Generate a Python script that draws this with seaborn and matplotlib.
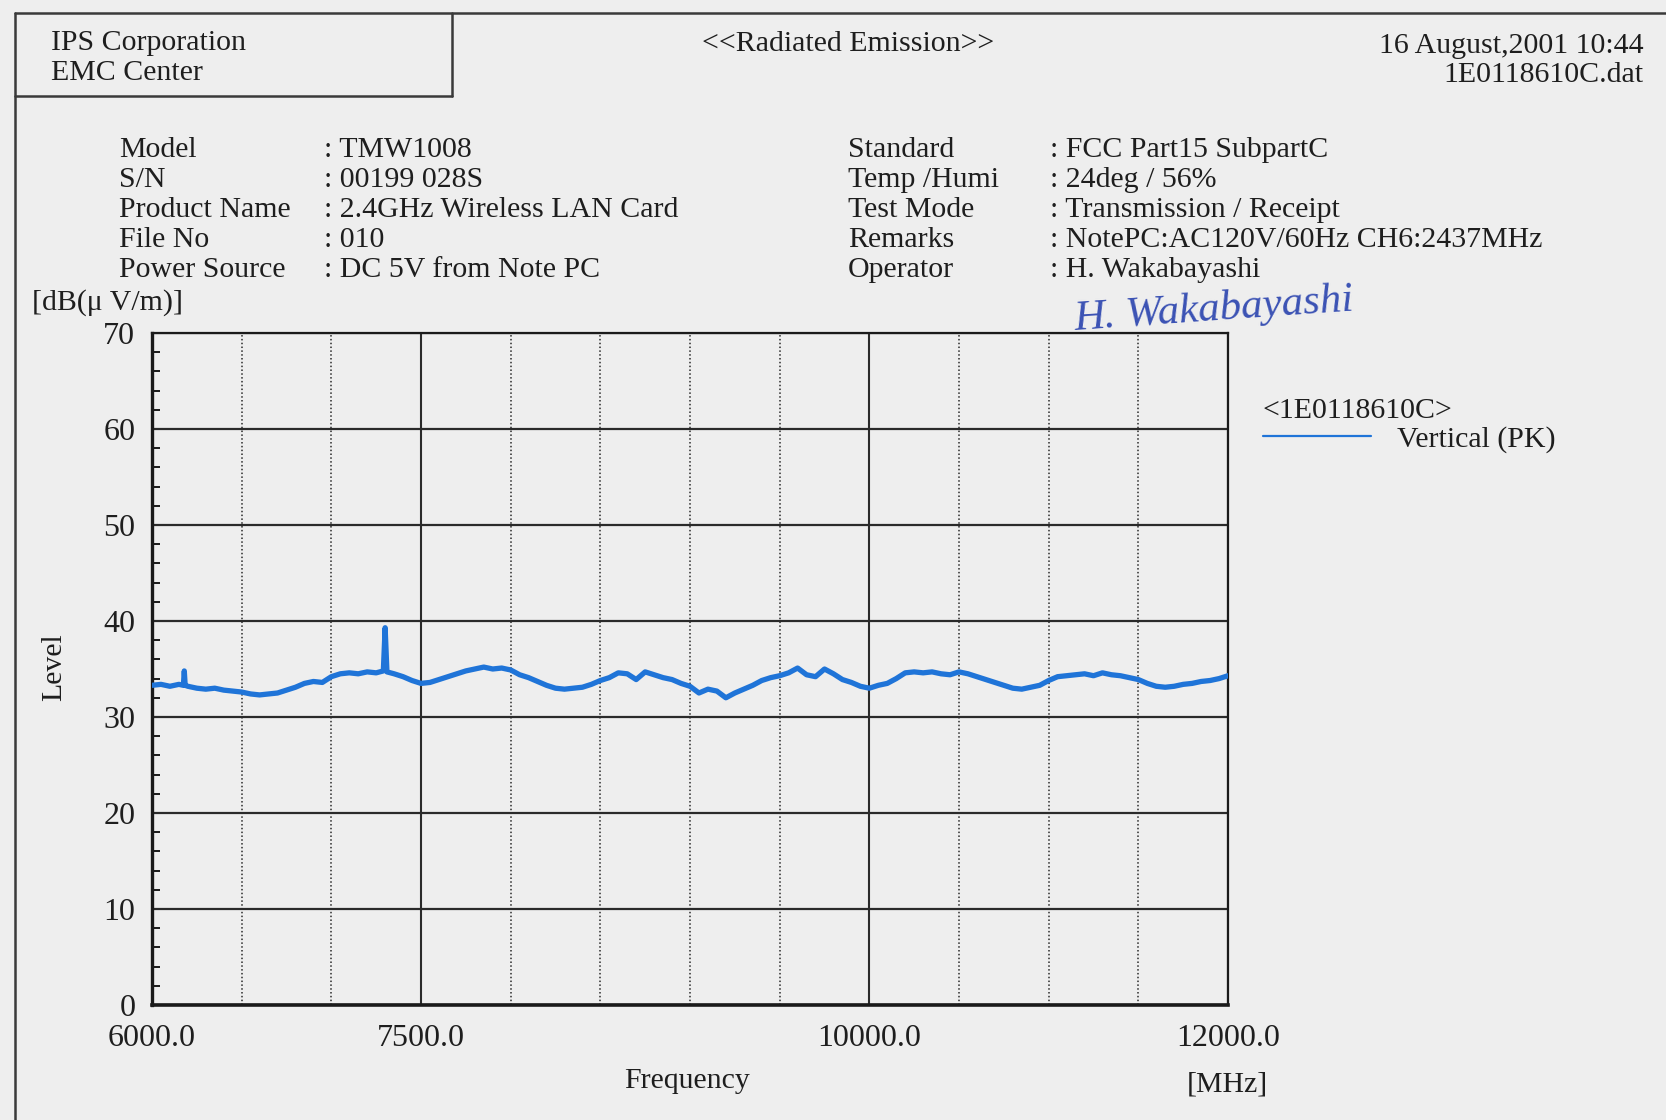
import matplotlib
matplotlib.use("Agg")
import matplotlib.pyplot as plt
from matplotlib.lines import Line2D
from matplotlib.ticker import MultipleLocator, FixedLocator, FuncFormatter
import seaborn as sns
import pandas as pd

# ---------------- data ----------------
freq_mhz = [6000, 6050, 6100, 6150, 6175, 6180, 6185, 6200, 6250, 6300, 6350, 6400, 6450,
            6500, 6550, 6600, 6650, 6700, 6750, 6800, 6850, 6900, 6950, 7000, 7050, 7100,
            7150, 7200, 7250, 7290, 7300, 7310, 7350, 7400, 7450, 7500, 7550, 7600, 7650,
            7700, 7750, 7800, 7850, 7900, 7950, 8000, 8050, 8100, 8150, 8200, 8250, 8300,
            8350, 8400, 8450, 8500, 8550, 8600, 8650, 8700, 8750, 8800, 8850, 8900, 8950,
            9000, 9050, 9100, 9150, 9200, 9250, 9300, 9350, 9400, 9450, 9500, 9550, 9600,
            9650, 9700, 9750, 9800, 9850, 9900, 9950, 10000, 10050, 10100, 10150, 10200,
            10250, 10300, 10350, 10400, 10450, 10500, 10550, 10600, 10650, 10700, 10750,
            10800, 10850, 10900, 10950, 11000, 11050, 11100, 11150, 11200, 11250, 11300,
            11350, 11400, 11450, 11500, 11550, 11600, 11650, 11700, 11750, 11800, 11850,
            11900, 11950, 12000]
level_db = [33.3, 33.4, 33.2, 33.4, 33.3, 34.8, 33.3, 33.2, 33.0, 32.9, 33.0, 32.8, 32.7,
            32.6, 32.4, 32.3, 32.4, 32.5, 32.8, 33.1, 33.5, 33.7, 33.6, 34.2, 34.5, 34.6,
            34.5, 34.7, 34.6, 34.8, 39.3, 34.7, 34.5, 34.2, 33.8, 33.5, 33.6, 33.9, 34.2,
            34.5, 34.8, 35.0, 35.2, 35.0, 35.1, 34.9, 34.4, 34.1, 33.7, 33.3, 33.0, 32.9,
            33.0, 33.1, 33.4, 33.8, 34.1, 34.6, 34.5, 33.9, 34.7, 34.4, 34.1, 33.9, 33.5,
            33.2, 32.5, 32.9, 32.7, 32.0, 32.5, 32.9, 33.3, 33.8, 34.1, 34.3, 34.6, 35.1,
            34.4, 34.2, 35.0, 34.5, 33.9, 33.6, 33.2, 33.0, 33.3, 33.5, 34.0, 34.6,
            34.7, 34.6, 34.7, 34.5, 34.4, 34.7, 34.5, 34.2, 33.9, 33.6, 33.3,
            33.0, 32.9, 33.1, 33.3, 33.8, 34.2, 34.3, 34.4, 34.5, 34.3, 34.6,
            34.4, 34.3, 34.1, 33.9, 33.5, 33.2, 33.1, 33.2, 33.4, 33.5, 33.7,
            33.8, 34.0, 34.3]
x_tick_values = [6000, 7500, 10000, 12000]
y_tick_values = [0, 10, 20, 30, 40, 50, 60, 70]
series_name = "Vertical (PK)"
legend_title = "<1E0118610C>"

left_labels = ["Model", "S/N", "Product Name", "File No", "Power Source"]
left_values = [": TMW1008", ": 00199 028S", ": 2.4GHz Wireless LAN Card", ": 010",
               ": DC 5V from Note PC"]
right_labels = ["Standard", "Temp /Humi", "Test Mode", "Remarks", "Operator"]
right_values = [": FCC Part15 SubpartC", ": 24deg / 56%", ": Transmission / Receipt",
                ": NotePC:AC120V/60Hz CH6:2437MHz", ": H. Wakabayashi"]

# ---------------- style ----------------
BG = "#eeeeee"
INK = "#1e1e1e"
BLUE = "#1f74d8"
W, H = 1666, 1120

sns.set_theme(style="white")
plt.rcParams["font.family"] = ["Liberation Serif", "DejaVu Serif"]
plt.rcParams["text.color"] = INK
FS = 21.5
TFS = 23

fig = plt.figure(figsize=(W / 100, H / 100), dpi=100, facecolor=BG)


def fx(px):
    return px / W


def fy(py):
    return 1 - py / H


ax = fig.add_axes([fx(152), fy(1005), fx(1228) - fx(152), fy(333) - fy(1005)])
ax.set_facecolor(BG)

df = pd.DataFrame({"Frequency": freq_mhz, "Level": level_db})
sns.lineplot(data=df, x="Frequency", y="Level", ax=ax, color=BLUE, lw=3.8,
             estimator=None, sort=False, label=series_name, zorder=5)

ax.set_xlim(6000, 12000)
ax.set_ylim(0, 70)
ax.xaxis.set_major_locator(FixedLocator(x_tick_values))
ax.xaxis.set_minor_locator(MultipleLocator(500))
ax.xaxis.set_major_formatter(FuncFormatter(lambda v, p: f"{v:.1f}"))
ax.yaxis.set_major_locator(FixedLocator(y_tick_values))
ax.yaxis.set_minor_locator(MultipleLocator(2))

ax.grid(False)
ax.grid(which="major", axis="y", color="#2a2a2a", lw=1.6, ls="-")
ax.grid(which="major", axis="x", color="#2a2a2a", lw=1.5, ls="-")
ax.grid(which="minor", axis="x", color="#2a2a2a", lw=1.1, ls=(0, (1, 1.5)))

for side, lw in [("left", 2.4), ("bottom", 2.6), ("top", 1.6), ("right", 1.6)]:
    ax.spines[side].set_visible(True)
    ax.spines[side].set_color("#1a1a1a")
    ax.spines[side].set_linewidth(lw)

ax.tick_params(axis="x", which="both", length=0, pad=14, labelsize=TFS, colors=INK)
ax.tick_params(axis="y", which="major", length=0, pad=12, labelsize=TFS, colors=INK)
ax.tick_params(axis="y", which="minor", direction="in", length=6, width=1.4,
               left=True, right=False, color="#1a1a1a")

ax.set_xlabel("Frequency", fontsize=FS, color=INK)
ax.xaxis.set_label_coords(0.497, -0.113)
ax.xaxis.label.set_va("center")
ax.set_ylabel("Level", fontsize=FS, color=INK)
ax.yaxis.set_label_coords(-0.091, 0.503)
ax.yaxis.label.set_va("center")

# legend
leg = ax.legend(title=legend_title, loc="upper left",
                bbox_to_anchor=(fx(1263), fy(398)), bbox_transform=fig.transFigure,
                frameon=False, borderpad=0, borderaxespad=0, fontsize=FS,
                title_fontsize=FS, handlelength=3.6, handletextpad=0.9,
                labelspacing=0.05, alignment="left")
for ln in leg.get_lines():
    ln.set_linewidth(1.6)

# ---------------- page texts ----------------
fig.text(fx(51), fy(43), "IPS Corporation", fontsize=FS, va="center", ha="left")
fig.text(fx(51), fy(73), "EMC Center", fontsize=FS, va="center", ha="left")
fig.text(fx(848), fy(44), "<<Radiated Emission>>", fontsize=FS, va="center", ha="center")
fig.text(fx(1644), fy(46), "16 August,2001 10:44", fontsize=FS, va="center", ha="right")
fig.text(fx(1644), fy(75), "1E0118610C.dat", fontsize=FS, va="center", ha="right")

row_y = [150, 180, 210, 240, 270]
for yy, lab, val in zip(row_y, left_labels, left_values):
    fig.text(fx(119), fy(yy), lab, fontsize=FS, va="center", ha="left")
    fig.text(fx(324), fy(yy), val, fontsize=FS, va="center", ha="left")
for yy, lab, val in zip(row_y, right_labels, right_values):
    fig.text(fx(848), fy(yy), lab, fontsize=FS, va="center", ha="left")
    fig.text(fx(1050), fy(yy), val, fontsize=FS, va="center", ha="left")

fig.text(fx(32), fy(303), "[dB(\u03bc V/m)]", fontsize=FS, va="center", ha="left")
fig.text(fx(1227), fy(1084), "[MHz]", fontsize=FS, va="center", ha="center")

# signature
fig.text(fx(1073), fy(310), "H. Wakabayashi", fontsize=31, style="italic",
         color="#3b52b4", va="center", ha="left", rotation=4,
         family=["Liberation Serif"])

# page frame and header box
frame_kw = dict(color="#3a3a3a", lw=1.8, transform=fig.transFigure)
fig.add_artist(Line2D([fx(15), fx(1666)], [fy(13), fy(13)], **frame_kw))
fig.add_artist(Line2D([fx(15), fx(15)], [fy(13), fy(1120)], **frame_kw))
fig.add_artist(Line2D([fx(452), fx(452)], [fy(13), fy(96)], **frame_kw))
fig.add_artist(Line2D([fx(15), fx(452)], [fy(96), fy(96)], **frame_kw))

fig.savefig("out.png", dpi=100, facecolor=BG)
